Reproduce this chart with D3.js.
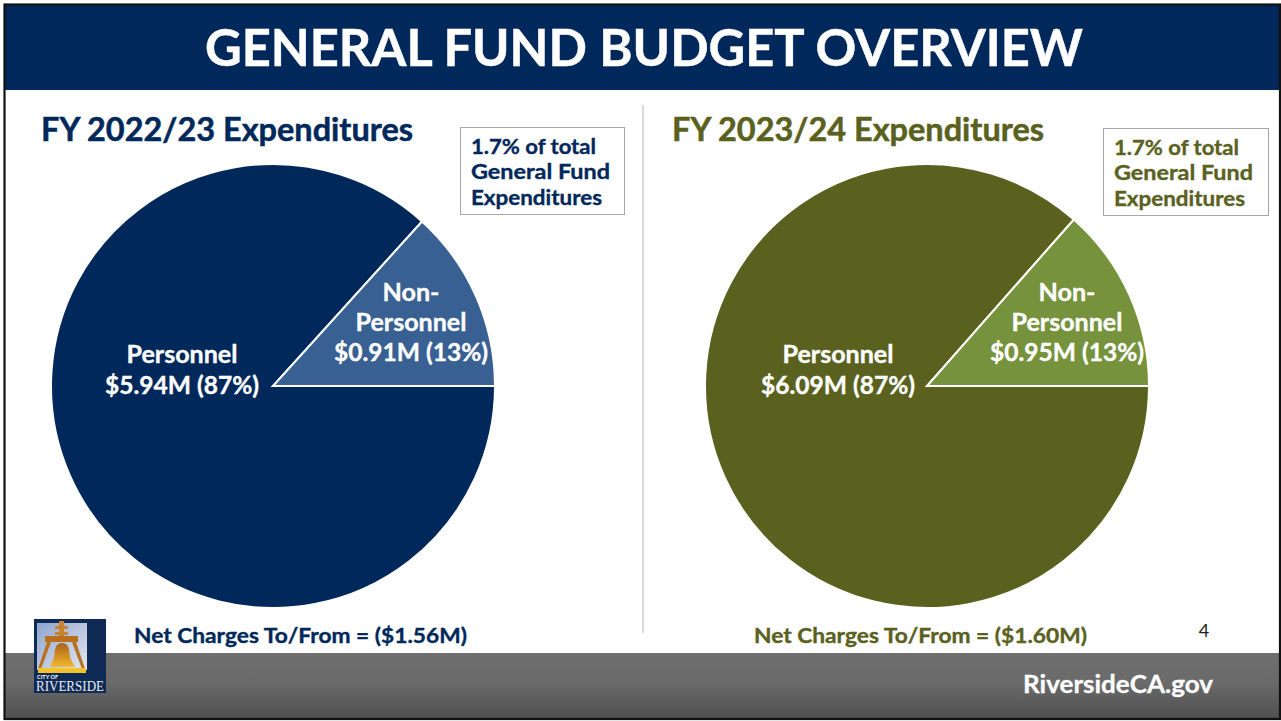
<!DOCTYPE html>
<html>
<head>
<meta charset="utf-8">
<script src="https://cdn.jsdelivr.net/npm/d3@7"></script>
<style>
html, body { margin: 0; padding: 0; background: #fff; }
svg { display: block; }
text { font-family: "Lato", sans-serif; font-weight: 700; }
</style>
</head>
<body>
<div id="chart"></div>
<script>
const width = 1281, height = 721;

const categories = ["Personnel", "Non-Personnel"];
const values_2223 = [5.94, 0.91];
const values_2324 = [6.09, 0.95];
const share_2223 = ["87%", "13%"];
const share_2324 = ["87%", "13%"];
const titles = ["FY 2022/23 Expenditures", "FY 2023/24 Expenditures"];
const net_charges = ["Net Charges To/From = ($1.56M)", "Net Charges To/From = ($1.60M)"];
const note_lines = ["1.7% of total", "General Fund", "Expenditures"];

const navy = "#00285a", navy_light = "#386092";
const olive = "#5a611e", olive_light = "#76923c";

const svg = d3.select("#chart").append("svg")
    .attr("width", width)
    .attr("height", height);

const defs = svg.append("defs");
const grad = defs.append("linearGradient").attr("id", "foot").attr("x1", 0).attr("y1", 0).attr("x2", 0).attr("y2", 1);
grad.append("stop").attr("offset", "0%").attr("stop-color", "#6e6e6e");
grad.append("stop").attr("offset", "45%").attr("stop-color", "#6a6a6a");
grad.append("stop").attr("offset", "100%").attr("stop-color", "#4f4f4f");

const sky = defs.append("linearGradient").attr("id", "sky").attr("x1", 0).attr("y1", 0).attr("x2", 1).attr("y2", 1);
sky.append("stop").attr("offset", "0%").attr("stop-color", "#8fa6cf");
sky.append("stop").attr("offset", "100%").attr("stop-color", "#e4e6ee");

const gold = defs.append("linearGradient").attr("id", "gold").attr("x1", 0).attr("y1", 0).attr("x2", 0).attr("y2", 1);
gold.append("stop").attr("offset", "0%").attr("stop-color", "#a8601c");
gold.append("stop").attr("offset", "100%").attr("stop-color", "#f4b82c");

// stretch a text to the width it has on the slide, and thicken it a bit
function fit(sel, w, bold = 0.35) {
    return sel.attr("textLength", w)
        .attr("lengthAdjust", "spacingAndGlyphs")
        .attr("stroke", sel.attr("fill") || "currentColor")
        .attr("stroke-width", bold);
}

// slide background
svg.append("rect").attr("width", width).attr("height", height).attr("fill", "#fff");
svg.append("rect").attr("x", 5).attr("y", 5).attr("width", width - 6).attr("height", 85).attr("fill", navy);
svg.append("rect").attr("x", 5).attr("y", 653).attr("width", width - 6).attr("height", 66).attr("fill", "url(#foot)");

// frame
svg.append("rect").attr("x", 4.5).attr("y", 4.5).attr("width", 1275.5).attr("height", 714.5)
    .attr("fill", "none").attr("stroke", "#111").attr("stroke-width", 2.2);

svg.append("text")
    .attr("x", 205).attr("y", 66)
    .attr("font-size", 51)
    .attr("fill", "#fff")
    .text("GENERAL FUND BUDGET OVERVIEW")
    .call(fit, 878, 0.5);

// divider
svg.append("line").attr("x1", 643).attr("x2", 643).attr("y1", 105).attr("y2", 633)
    .attr("stroke", "#d9d9d9").attr("stroke-width", 2);

const pie = d3.pie().sort(null).startAngle(Math.PI / 2).endAngle(Math.PI / 2 + 2 * Math.PI);
const r = d3.scaleLinear().domain([0, 1]).range([0, 222]);
const arc = d3.arc().innerRadius(0).outerRadius(r(1));

function drawPanel(p) {
    const g = svg.append("g");
    g.append("text").attr("x", p.title_x).attr("y", 141)
        .attr("font-size", 32).attr("fill", p.dark).text(p.title)
        .call(fit, 372, 0.5);

    const note = g.append("g").attr("transform", `translate(${p.note_x},${p.note_y})`);
    note.append("rect").attr("x", 0.5).attr("y", 0.5).attr("width", p.note_w).attr("height", 87)
        .attr("fill", "#fff").attr("stroke", "#a6a6a6").attr("stroke-width", 1);
    const note_w = [125, 139, 131];
    note.selectAll("text").data(note_lines).join("text")
        .attr("x", p.note_x > 1000 ? 11 : 11).attr("y", (d, i) => 26.5 + i * 25.7)
        .attr("font-size", 21.5).attr("fill", p.dark).text(d => d)
        .each(function(d, i) { d3.select(this).call(fit, note_w[i]); });

    const pg = g.append("g").attr("transform", `translate(${p.cx},386)`);
    pg.selectAll("path").data(pie(p.values)).join("path")
        .attr("d", arc)
        .attr("fill", (d, i) => i === 0 ? p.dark : p.light)
        .attr("stroke", "#fff").attr("stroke-width", 2);

    const label = g.append("g").attr("text-anchor", "middle").attr("font-size", 24);
    const add = (x, y, str, w) => label.append("text").attr("x", x).attr("y", y)
        .attr("fill", "#fff").text(str).call(fit, w);
    add(p.cx + p.per_dx, 363, categories[0], 111);
    add(p.cx + p.per_dx, 394, `$${p.values[0].toFixed(2)}M (${p.share[0]})`, 154);
    add(p.cx + p.non_dx, 301, "Non-", 57);
    add(p.cx + p.non_dx, 331, "Personnel", 111);
    add(p.cx + p.non_dx, 361, `$${p.values[1].toFixed(2)}M (${p.share[1]})`, 154);

    g.append("text").attr("x", p.net_x).attr("y", 643)
        .attr("font-size", 21).attr("fill", p.dark).text(p.net)
        .call(fit, 333);
}

drawPanel({ title: titles[0], title_x: 41, dark: navy, light: navy_light, cx: 273, values: values_2223, share: share_2223,
    note_x: 460, note_y: 127, note_w: 164, per_dx: -91, non_dx: 138, net: net_charges[0], net_x: 134 });
drawPanel({ title: titles[1], title_x: 672, dark: olive, light: olive_light, cx: 927, values: values_2324, share: share_2324,
    note_x: 1103, note_y: 128, note_w: 165, per_dx: -89, non_dx: 140, net: net_charges[1], net_x: 754 });

// page number and site
svg.append("text").attr("x", 1204).attr("y", 637).attr("text-anchor", "middle")
    .attr("font-size", 18).attr("fill", "#222").style("font-weight", 400).text("4");
svg.append("text").attr("x", 1023).attr("y", 693)
    .attr("font-size", 25).attr("fill", "#fff").text("RiversideCA.gov")
    .call(fit, 190, 0.3);

// city logo
const logo = svg.append("g").attr("transform", "translate(34,619)");
logo.append("rect").attr("width", 72).attr("height", 74).attr("fill", "#0f2a55");
logo.append("rect").attr("x", 3).attr("y", 4).attr("width", 50).attr("height", 47).attr("fill", "url(#sky)");
logo.append("rect").attr("x", 25).attr("y", 2).attr("width", 5).attr("height", 15).attr("fill", "#c8842c");
logo.append("rect").attr("x", 21).attr("y", 7).attr("width", 13).attr("height", 3).attr("fill", "#c8842c");
logo.append("rect").attr("x", 21).attr("y", 13).attr("width", 13).attr("height", 3).attr("fill", "#c8842c");
logo.append("rect").attr("x", 11).attr("y", 17).attr("width", 33).attr("height", 6).attr("fill", "#b8701f");
logo.append("path").attr("d", "M13 23 L4 50 L7 50 L17 23 Z M42 23 L51 50 L48 50 L38 23 Z").attr("fill", "#b8701f");
logo.append("path").attr("d", "M28 24 C20 24 21 33 20 38 C19 42 17 45 16 48 L41 48 C40 45 37 42 36 38 C35 33 36 24 28 24 Z").attr("fill", "url(#gold)");
logo.append("rect").attr("x", 4).attr("y", 49).attr("width", 48).attr("height", 5).attr("fill", "#f2c230");
logo.append("text").attr("x", 3).attr("y", 60).attr("font-size", 5.5).attr("fill", "#fff").attr("textLength", 21).text("CITY OF");
logo.append("text").attr("x", 2).attr("y", 72).attr("font-size", 15).attr("fill", "#e8ecf4")
    .attr("textLength", 68).attr("lengthAdjust", "spacingAndGlyphs")
    .style("font-family", "'Liberation Serif', serif").style("font-weight", 400).text("RIVERSIDE");
</script>
</body>
</html>
